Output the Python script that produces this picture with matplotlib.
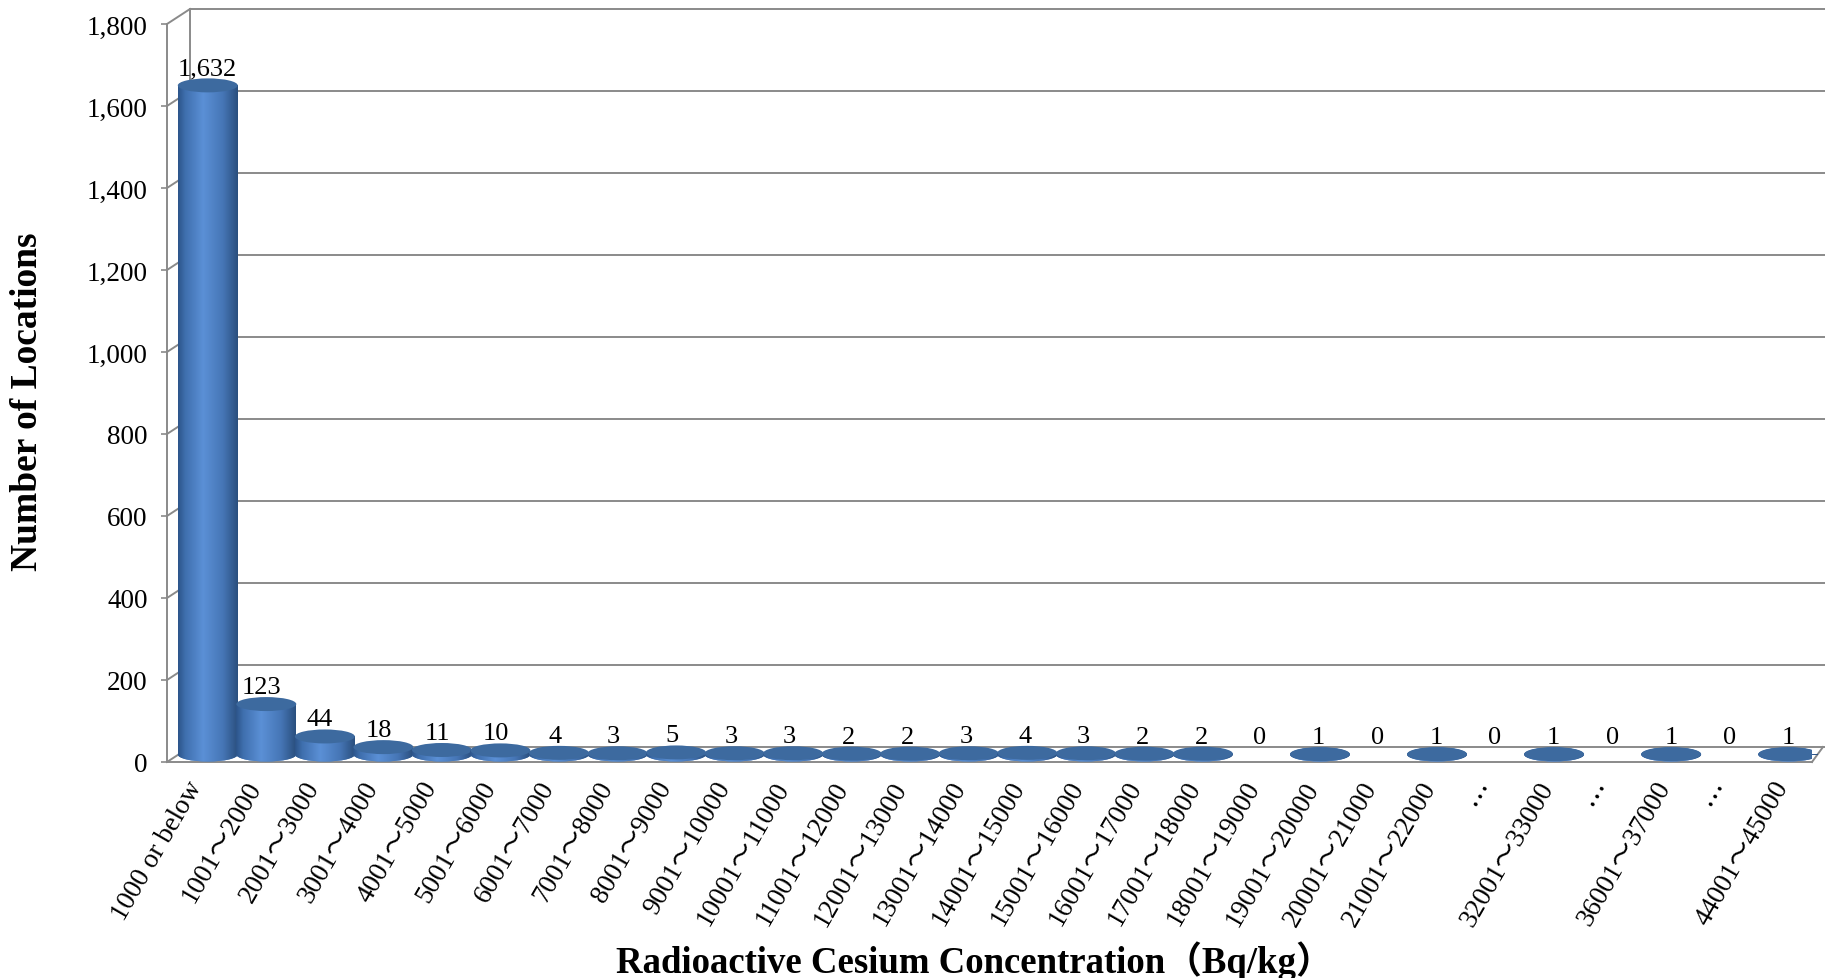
import matplotlib
matplotlib.use('Agg')
import matplotlib.pyplot as plt
import numpy as np
from matplotlib.patches import Ellipse
from matplotlib.colors import LinearSegmentedColormap
from matplotlib.ticker import StrMethodFormatter

# data
categories = ['1000 or below', '1001～2000', '2001～3000', '3001～4000', '4001～5000',
              '5001～6000', '6001～7000', '7001～8000', '8001～9000', '9001～10000',
              '10001～11000', '11001～12000', '12001～13000', '13001～14000', '14001～15000',
              '15001～16000', '16001～17000', '17001～18000', '18001～19000', '19001～20000',
              '20001～21000', '21001～22000', '⋯', '32001～33000', '⋯', '36001～37000',
              '⋯', '44001～45000']
counts = [1632, 123, 44, 18, 11, 10, 4, 3, 5, 3, 3, 2, 2, 3, 4, 3, 2, 2, 0, 1,
          0, 1, 0, 1, 0, 1, 0, 1]
yticks = [0, 200, 400, 600, 800, 1000, 1200, 1400, 1600, 1800]

plt.rcParams['font.family'] = ['Liberation Serif', 'Noto Sans CJK JP', 'DejaVu Serif']

GRID = '#8a8a8a'
TOP = '#3d6a9f'
n = len(counts)

# fake 3d depth (in data units): back plane is shifted right/up
PX_CAT = 1645 / n
PX_VAL = 738 / 1800
DX_L = 23 / PX_CAT
DX_R = 11 / PX_CAT
DY = 15 / PX_VAL
ELL_H = 14 / PX_VAL
W = 1.02


def back_x(x):
    return x + DX_L + (DX_R - DX_L) * (x + 0.5) / n


fig = plt.figure(figsize=(18.25, 9.79), dpi=100)
ax = fig.add_axes([167 / 1825, 216 / 979, 1645 / 1825, 738 / 979])

# back wall, side wall and floor
for v in yticks:
    ax.plot([back_x(-0.5), back_x(n - 0.5) + 1], [v + DY, v + DY], color=GRID, lw=1.4,
            clip_on=False, zorder=1)
    ax.plot([-0.5, back_x(-0.5)], [v, v + DY], color=GRID, lw=1.4, clip_on=False, zorder=1)
ax.plot([back_x(-0.5)] * 2, [DY, 1800 + DY], color=GRID, lw=1.4, clip_on=False, zorder=1)
ax.plot([n - 0.5, back_x(n - 0.5)], [0, DY], color=GRID, lw=1.4, clip_on=False, zorder=1)

# cylinders
cyl_cmap = LinearSegmentedColormap.from_list(
    'cyl', [(0, '#2c5489'), (0.12, '#3f6fae'), (0.42, '#5b90d6'), (0.75, '#4676b6'), (1, '#2a4f7e')])
grad = np.linspace(0, 1, 256).reshape(1, -1)

xpos = np.arange(n)
cyl_x = [(i + back_x(i)) / 2 for i in xpos]
base = DY / 2
bars = ax.bar(cyl_x, counts, width=W, bottom=base, color='#4a7cba', linewidth=0, zorder=3)

for i, (rect, v) in enumerate(zip(bars, counts)):
    z = 3 + i * 0.01
    rect.set_zorder(z)
    if v == 0:
        continue
    xc = cyl_x[i]
    im = ax.imshow(grad, extent=(xc - W / 2, xc + W / 2, base, base + v), cmap=cyl_cmap,
                   aspect='auto', interpolation='bilinear', zorder=z + 0.001)
    im.set_clip_path(rect)
    bot = Ellipse((xc, base), W, ELL_H, facecolor='#4a7cba', lw=0, zorder=z)
    ax.add_patch(bot)
    im2 = ax.imshow(grad, extent=(xc - W / 2, xc + W / 2, base - ELL_H / 2, base + ELL_H / 2),
                    cmap=cyl_cmap, aspect='auto', interpolation='bilinear', zorder=z + 0.001)
    im2.set_clip_path(bot)
    ax.add_patch(Ellipse((xc, base + v), W, ELL_H, facecolor=TOP, lw=0, zorder=z + 0.002))

# value labels
for i, v in enumerate(counts):
    xl = cyl_x[i] if i == 0 else i + 0.1
    ax.annotate(f'{v:,}', xy=(xl, v + base), xytext=(0, 8), textcoords='offset points',
                ha='center', va='baseline', fontsize=19, zorder=6, annotation_clip=False)

ax.set_xlim(-0.5, n - 0.5)
ax.set_ylim(0, 1800)

for s in ['top', 'right']:
    ax.spines[s].set_visible(False)
ax.spines['left'].set_bounds(0, 1800)
ax.spines['bottom'].set_bounds(-0.5, n - 0.5)
for s in ['left', 'bottom']:
    ax.spines[s].set_color(GRID)
    ax.spines[s].set_linewidth(1.4)
    ax.spines[s].set_zorder(2)

ax.set_yticks(yticks)
ax.yaxis.set_major_formatter(StrMethodFormatter('{x:,.0f}'))
ax.tick_params(axis='y', direction='out', length=4, width=1.2, color=GRID, labelsize=19.5, pad=10)

ax.set_xticks(xpos)
ax.set_xticklabels(categories, rotation=60, ha='right', va='center', rotation_mode='anchor',
                   fontsize=19.5)
ax.tick_params(axis='x', length=0, pad=15)

ax.set_xlabel('Radioactive Cesium Concentration（Bq/kg）', fontsize=26.5, fontweight='bold', va='center')
ax.xaxis.set_label_coords(0.491, -0.268)
ax.set_ylabel('Number of Locations', fontsize=27, fontweight='bold', va='center')
ax.yaxis.set_label_coords(-0.0845, 0.489)

fig.savefig('out.png', dpi=100)
